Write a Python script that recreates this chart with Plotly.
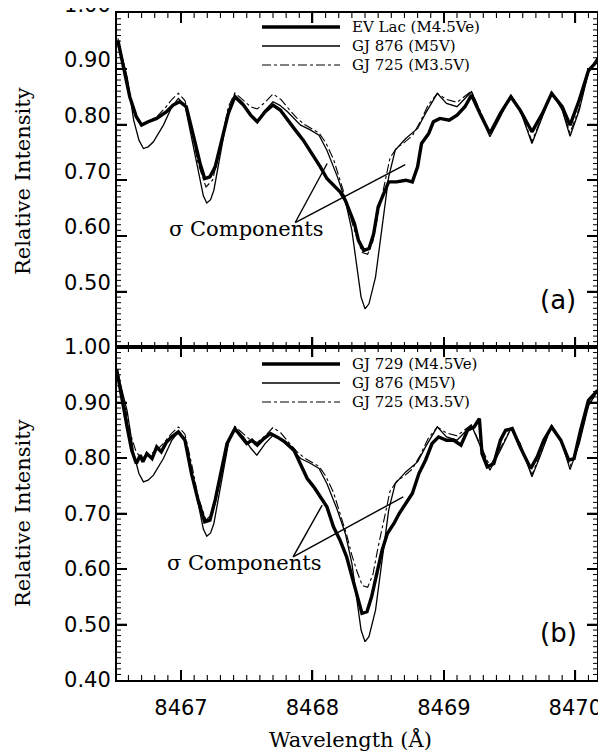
import plotly.graph_objects as go

# ---------------- data ----------------
# GJ 876 (M5V) reference spectrum (same in both panels)
wl_gj876 = [8466.52, 8466.59, 8466.64, 8466.68, 8466.714, 8466.75, 8466.79, 8466.866, 8466.93, 8466.98,
            8467.03, 8467.08, 8467.13, 8467.17, 8467.196, 8467.225, 8467.25, 8467.30, 8467.36, 8467.41,
            8467.475, 8467.53, 8467.577, 8467.64, 8467.70, 8467.75, 8467.81, 8467.91, 8467.98, 8468.05,
            8468.11, 8468.19, 8468.25, 8468.30, 8468.34, 8468.37, 8468.40, 8468.43, 8468.48, 8468.53,
            8468.58, 8468.63, 8468.71, 8468.80, 8468.86, 8468.95, 8469.02, 8469.10, 8469.21, 8469.28,
            8469.35, 8469.43, 8469.51, 8469.58, 8469.67, 8469.74, 8469.82, 8469.90, 8469.96, 8470.03,
            8470.10, 8470.17]
int_gj876 = [0.951, 0.885, 0.808, 0.772, 0.757, 0.760, 0.769, 0.799, 0.832, 0.847,
             0.835, 0.778, 0.718, 0.672, 0.659, 0.665, 0.682, 0.748, 0.826, 0.853,
             0.838, 0.818, 0.805, 0.826, 0.841, 0.835, 0.823, 0.799, 0.791, 0.781,
             0.754, 0.706, 0.664, 0.610, 0.538, 0.490, 0.469, 0.478, 0.526, 0.616,
             0.706, 0.754, 0.775, 0.793, 0.820, 0.856, 0.838, 0.832, 0.859, 0.820,
             0.778, 0.814, 0.853, 0.826, 0.766, 0.808, 0.859, 0.826, 0.779, 0.826,
             0.894, 0.921]

# GJ 725 (M3.5V) reference spectrum (same in both panels)
wl_gj725 = [8466.52, 8466.57, 8466.62, 8466.66, 8466.70, 8466.76, 8466.82, 8466.88, 8466.93, 8466.98,
            8467.03, 8467.08, 8467.13, 8467.19, 8467.24, 8467.30, 8467.36, 8467.41, 8467.47, 8467.53,
            8467.58, 8467.64, 8467.70, 8467.76, 8467.82, 8467.88, 8467.94, 8468.00, 8468.05, 8468.10,
            8468.16, 8468.21, 8468.26, 8468.30, 8468.34, 8468.38, 8468.42, 8468.46, 8468.50, 8468.55,
            8468.59, 8468.64, 8468.70, 8468.76, 8468.82, 8468.88, 8468.95, 8469.02, 8469.10, 8469.21,
            8469.28, 8469.35, 8469.43, 8469.51, 8469.58, 8469.67, 8469.74, 8469.82, 8469.90, 8469.96,
            8470.03, 8470.10, 8470.17]
int_gj725 = [0.955, 0.895, 0.840, 0.810, 0.800, 0.806, 0.815, 0.830, 0.845, 0.856,
             0.843, 0.790, 0.730, 0.688, 0.700, 0.760, 0.832, 0.857, 0.845, 0.832,
             0.828, 0.840, 0.855, 0.845, 0.828, 0.812, 0.800, 0.792, 0.785, 0.768,
             0.738, 0.700, 0.662, 0.625, 0.595, 0.570, 0.567, 0.590, 0.640, 0.695,
             0.740, 0.758, 0.768, 0.780, 0.805, 0.835, 0.856, 0.845, 0.840, 0.860,
             0.822, 0.785, 0.818, 0.853, 0.826, 0.770, 0.810, 0.858, 0.828, 0.785,
             0.830, 0.895, 0.920]

# EV Lac (M4.5Ve) - panel (a)
wl_evlac = [8466.52, 8466.57, 8466.61, 8466.66, 8466.70, 8466.75, 8466.815, 8466.89, 8466.94, 8466.99,
            8467.04, 8467.09, 8467.145, 8467.18, 8467.22, 8467.26, 8467.31, 8467.36, 8467.41, 8467.475,
            8467.53, 8467.58, 8467.64, 8467.70, 8467.755, 8467.81, 8467.87, 8467.93, 8467.996, 8468.06,
            8468.11, 8468.16, 8468.21, 8468.25, 8468.29, 8468.32, 8468.35, 8468.39, 8468.43, 8468.466,
            8468.50, 8468.54, 8468.58, 8468.64, 8468.71, 8468.76, 8468.80, 8468.83, 8468.885, 8468.92,
            8468.97, 8469.04, 8469.10, 8469.16, 8469.21, 8469.28, 8469.35, 8469.43, 8469.51, 8469.58,
            8469.67, 8469.75, 8469.82, 8469.90, 8469.96, 8470.03, 8470.10, 8470.17]
int_evlac = [0.951, 0.897, 0.850, 0.814, 0.799, 0.805, 0.811, 0.823, 0.835, 0.841,
             0.832, 0.784, 0.730, 0.703, 0.706, 0.724, 0.772, 0.820, 0.850, 0.835,
             0.817, 0.805, 0.823, 0.835, 0.826, 0.808, 0.790, 0.772, 0.748, 0.724,
             0.703, 0.691, 0.679, 0.664, 0.640, 0.622, 0.592, 0.574, 0.577, 0.604,
             0.652, 0.676, 0.697, 0.697, 0.700, 0.697, 0.724, 0.766, 0.784, 0.805,
             0.811, 0.808, 0.817, 0.832, 0.853, 0.817, 0.784, 0.820, 0.850, 0.826,
             0.787, 0.820, 0.856, 0.832, 0.799, 0.844, 0.897, 0.915]

# GJ 729 (M4.5Ve) - panel (b)
wl_gj729 = [8466.51, 8466.55, 8466.59, 8466.625, 8466.66, 8466.69, 8466.71, 8466.74, 8466.78, 8466.815,
            8466.85, 8466.89, 8466.93, 8466.98, 8467.03, 8467.08, 8467.13, 8467.18, 8467.22, 8467.26,
            8467.30, 8467.35, 8467.41, 8467.46, 8467.50, 8467.54, 8467.58, 8467.63, 8467.68, 8467.73,
            8467.79, 8467.86, 8467.91, 8467.96, 8468.01, 8468.06, 8468.11, 8468.16, 8468.21, 8468.26,
            8468.31, 8468.34, 8468.377, 8468.415, 8468.45, 8468.49, 8468.53, 8468.57, 8468.62, 8468.66,
            8468.71, 8468.76, 8468.81, 8468.86, 8468.91, 8468.96, 8469.02, 8469.075, 8469.13, 8469.18,
            8469.23, 8469.27, 8469.29, 8469.33, 8469.38, 8469.43, 8469.47, 8469.52, 8469.58, 8469.66,
            8469.71, 8469.76, 8469.82, 8469.89, 8469.95, 8469.99, 8470.04, 8470.10, 8470.17]
int_gj729 = [0.960, 0.905, 0.856, 0.814, 0.790, 0.805, 0.793, 0.808, 0.799, 0.820,
             0.811, 0.829, 0.838, 0.847, 0.832, 0.772, 0.724, 0.685, 0.688, 0.724,
             0.772, 0.826, 0.853, 0.838, 0.826, 0.832, 0.823, 0.835, 0.844, 0.838,
             0.829, 0.814, 0.790, 0.763, 0.748, 0.730, 0.712, 0.676, 0.652, 0.622,
             0.580, 0.556, 0.520, 0.523, 0.550, 0.592, 0.634, 0.664, 0.682, 0.700,
             0.718, 0.736, 0.772, 0.796, 0.826, 0.838, 0.832, 0.832, 0.823, 0.850,
             0.856, 0.871, 0.808, 0.784, 0.790, 0.832, 0.850, 0.853, 0.820, 0.781,
             0.802, 0.832, 0.856, 0.832, 0.796, 0.799, 0.850, 0.904, 0.922]

legend_top = ["EV Lac (M4.5Ve)", "GJ 876 (M5V)", "GJ 725 (M3.5V)"]
legend_bot = ["GJ 729 (M4.5Ve)", "GJ 876 (M5V)", "GJ 725 (M3.5V)"]

# ---------------- figure ----------------
# the page adds an 8 px body margin, so the figure is drawn 8 px smaller and
# all page positions below are converted with that offset
OFF = 8
W, H = 606 - OFF, 753 - OFF
L, R, T, B = 117, 597, 13, 680          # plot-area edges in page pixels
MID = 347
PW = R - L                               # plot width (px)
PH_TOP, PH_BOT = MID - T, B - MID        # panel heights (px)


def px(x):
    return (x - L) / (R - L)


def py(y):
    return 1 - (y - T) / (B - T)


SERIF = "DejaVu Serif"
SANS = "DejaVu Sans"

thick = dict(color="black", width=3.4)
thin = dict(color="black", width=1.3)
dd = dict(color="black", width=1.1, dash="dashdot")

XR = [8466.513, 8470.165]
YR_BOT = [0.40, 1.00]
YR_TOP = [0.4004, 1.0004]

fig = go.Figure()
# top panel (a): xaxis2 / yaxis2
fig.add_trace(go.Scatter(x=wl_gj725, y=int_gj725, mode="lines", line=dd, xaxis="x2", yaxis="y2"))
fig.add_trace(go.Scatter(x=wl_gj876, y=int_gj876, mode="lines", line=thin, xaxis="x2", yaxis="y2"))
fig.add_trace(go.Scatter(x=wl_evlac, y=int_evlac, mode="lines", line=thick, xaxis="x2", yaxis="y2"))
# bottom panel (b)
fig.add_trace(go.Scatter(x=wl_gj725, y=int_gj725, mode="lines", line=dd, xaxis="x", yaxis="y"))
fig.add_trace(go.Scatter(x=wl_gj876, y=int_gj876, mode="lines", line=thin, xaxis="x", yaxis="y"))
fig.add_trace(go.Scatter(x=wl_gj729, y=int_gj729, mode="lines", line=thick, xaxis="x", yaxis="y"))

split = py(MID)

axis_x = dict(range=XR, dtick=1, tick0=8467, tickformat="d", ticks="inside", ticklen=10, tickwidth=2,
              tickcolor="black", showline=True, linewidth=2, linecolor="black", mirror="allticks",
              automargin=False, ticklabelstandoff=8, showgrid=False, zeroline=False,
              tickfont=dict(family=SANS, size=21, color="black"))
axis_y = dict(dtick=0.1, tick0=0.4, tickformat=".2f", ticks="inside", ticklen=10, tickwidth=2,
              tickcolor="black", showline=True, linewidth=2, linecolor="black", mirror="allticks",
              automargin=False, showgrid=False, zeroline=False,
              tickfont=dict(family=SANS, size=21, color="black"))

fig.update_layout(
    width=W, height=H,
    margin=dict(l=L - OFF, r=(W + OFF) - R, t=T - OFF, b=(H + OFF) - B, autoexpand=False),
    paper_bgcolor="white", plot_bgcolor="white",
    showlegend=False,
    xaxis=dict(**axis_x, anchor="y", domain=[0, 1]),
    xaxis2=dict(**axis_x, anchor="y2", domain=[0, 1], showticklabels=False),
    yaxis=dict(**axis_y, anchor="x", domain=[0, split], range=YR_BOT),
    yaxis2=dict(**axis_y, anchor="x2", domain=[split, 1], range=YR_TOP,
                ticklabelshift=-9, ticklabeloverflow="allow"),
)

ann = []
shapes = []

# axis tick marks on all four sides of each panel, placed through the axes
for xr, yr, ph, yrng in (("x2", "y2", PH_TOP, YR_TOP), ("x", "y", PH_BOT, YR_BOT)):
    for i in range(0, 40):
        v = round(8466.5 + 0.1 * i, 1)
        if v <= XR[0] or v >= XR[1]:
            continue
        major = abs(v - round(v)) < 1e-6
        ln = (10 if major else 5) / ph
        st = dict(color="black", width=1.6 if major else 1.1)
        shapes.append(dict(type="line", xref=xr, yref=yr + " domain", x0=v, x1=v, y0=0, y1=ln, line=st))
        shapes.append(dict(type="line", xref=xr, yref=yr + " domain", x0=v, x1=v, y0=1, y1=1 - ln, line=st))
    for i in range(1, 60):
        v = round(0.40 + 0.01 * i, 2)
        if v <= yrng[0] or v >= yrng[1]:
            continue
        major = i % 10 == 0
        ln = (10 if major else 4) / PW
        st = dict(color="black", width=1.6 if major else 1.0)
        shapes.append(dict(type="line", xref=xr + " domain", yref=yr, x0=0, x1=ln, y0=v, y1=v, line=st))
        shapes.append(dict(type="line", xref=xr + " domain", yref=yr, x0=1, x1=1 - ln, y0=v, y1=v, line=st))

# axis titles
for yc in (181, 513):
    ann.append(dict(text="Relative Intensity", x=px(23), y=py(yc), xref="paper", yref="paper",
                    xanchor="center", yanchor="middle", textangle=-90, showarrow=False,
                    font=dict(family=SERIF, size=21, color="black")))
ann.append(dict(text="Wavelength (Å)", x=px(350), y=py(739), xref="paper", yref="paper",
                xanchor="center", yanchor="middle", showarrow=False,
                font=dict(family=SERIF, size=21, color="black")))

# panel labels
ann.append(dict(text="(a)", x=px(558), y=py(300), xref="paper", yref="paper", showarrow=False,
                xanchor="center", yanchor="middle", font=dict(family=SANS, size=26, color="black")))
ann.append(dict(text="(b)", x=px(558), y=py(633), xref="paper", yref="paper", showarrow=False,
                xanchor="center", yanchor="middle", font=dict(family=SANS, size=26, color="black")))

# legends
styles = [thick, thin, dd]
for rows, labels in (([27, 46, 65], legend_top), ([364, 383, 402], legend_bot)):
    for yy, lab, st in zip(rows, labels, styles):
        shapes.append(dict(type="line", xref="paper", yref="paper", x0=px(262), x1=px(340),
                           y0=py(yy), y1=py(yy), line=st))
        ann.append(dict(text=lab, x=px(350), y=py(yy), xref="paper", yref="paper", xanchor="left",
                        yanchor="middle", showarrow=False, font=dict(family=SERIF, size=15, color="black")))

# sigma components labels + pointer lines
ann.append(dict(text="σ Components", x=8467.495, y=0.613, xref="x2", yref="y2", showarrow=False,
                font=dict(family=SERIF, size=21, color="black")))
ann.append(dict(text="σ Components", x=8467.48, y=0.611, xref="x", yref="y", showarrow=False,
                font=dict(family=SERIF, size=21, color="black")))
ptr = dict(color="black", width=1.4)
shapes += [
    dict(type="line", xref="x2", yref="y2", x0=8467.869, y0=0.624, x1=8468.112, y1=0.730, line=ptr),
    dict(type="line", xref="x2", yref="y2", x0=8467.869, y0=0.624, x1=8468.706, y1=0.728, line=ptr),
    dict(type="line", xref="x", yref="y", x0=8467.853, y0=0.622, x1=8468.074, y1=0.715, line=ptr),
    dict(type="line", xref="x", yref="y", x0=8467.853, y0=0.622, x1=8468.691, y1=0.730, line=ptr),
]

fig.update_layout(annotations=ann, shapes=shapes)
fig.write_html("out.html")
